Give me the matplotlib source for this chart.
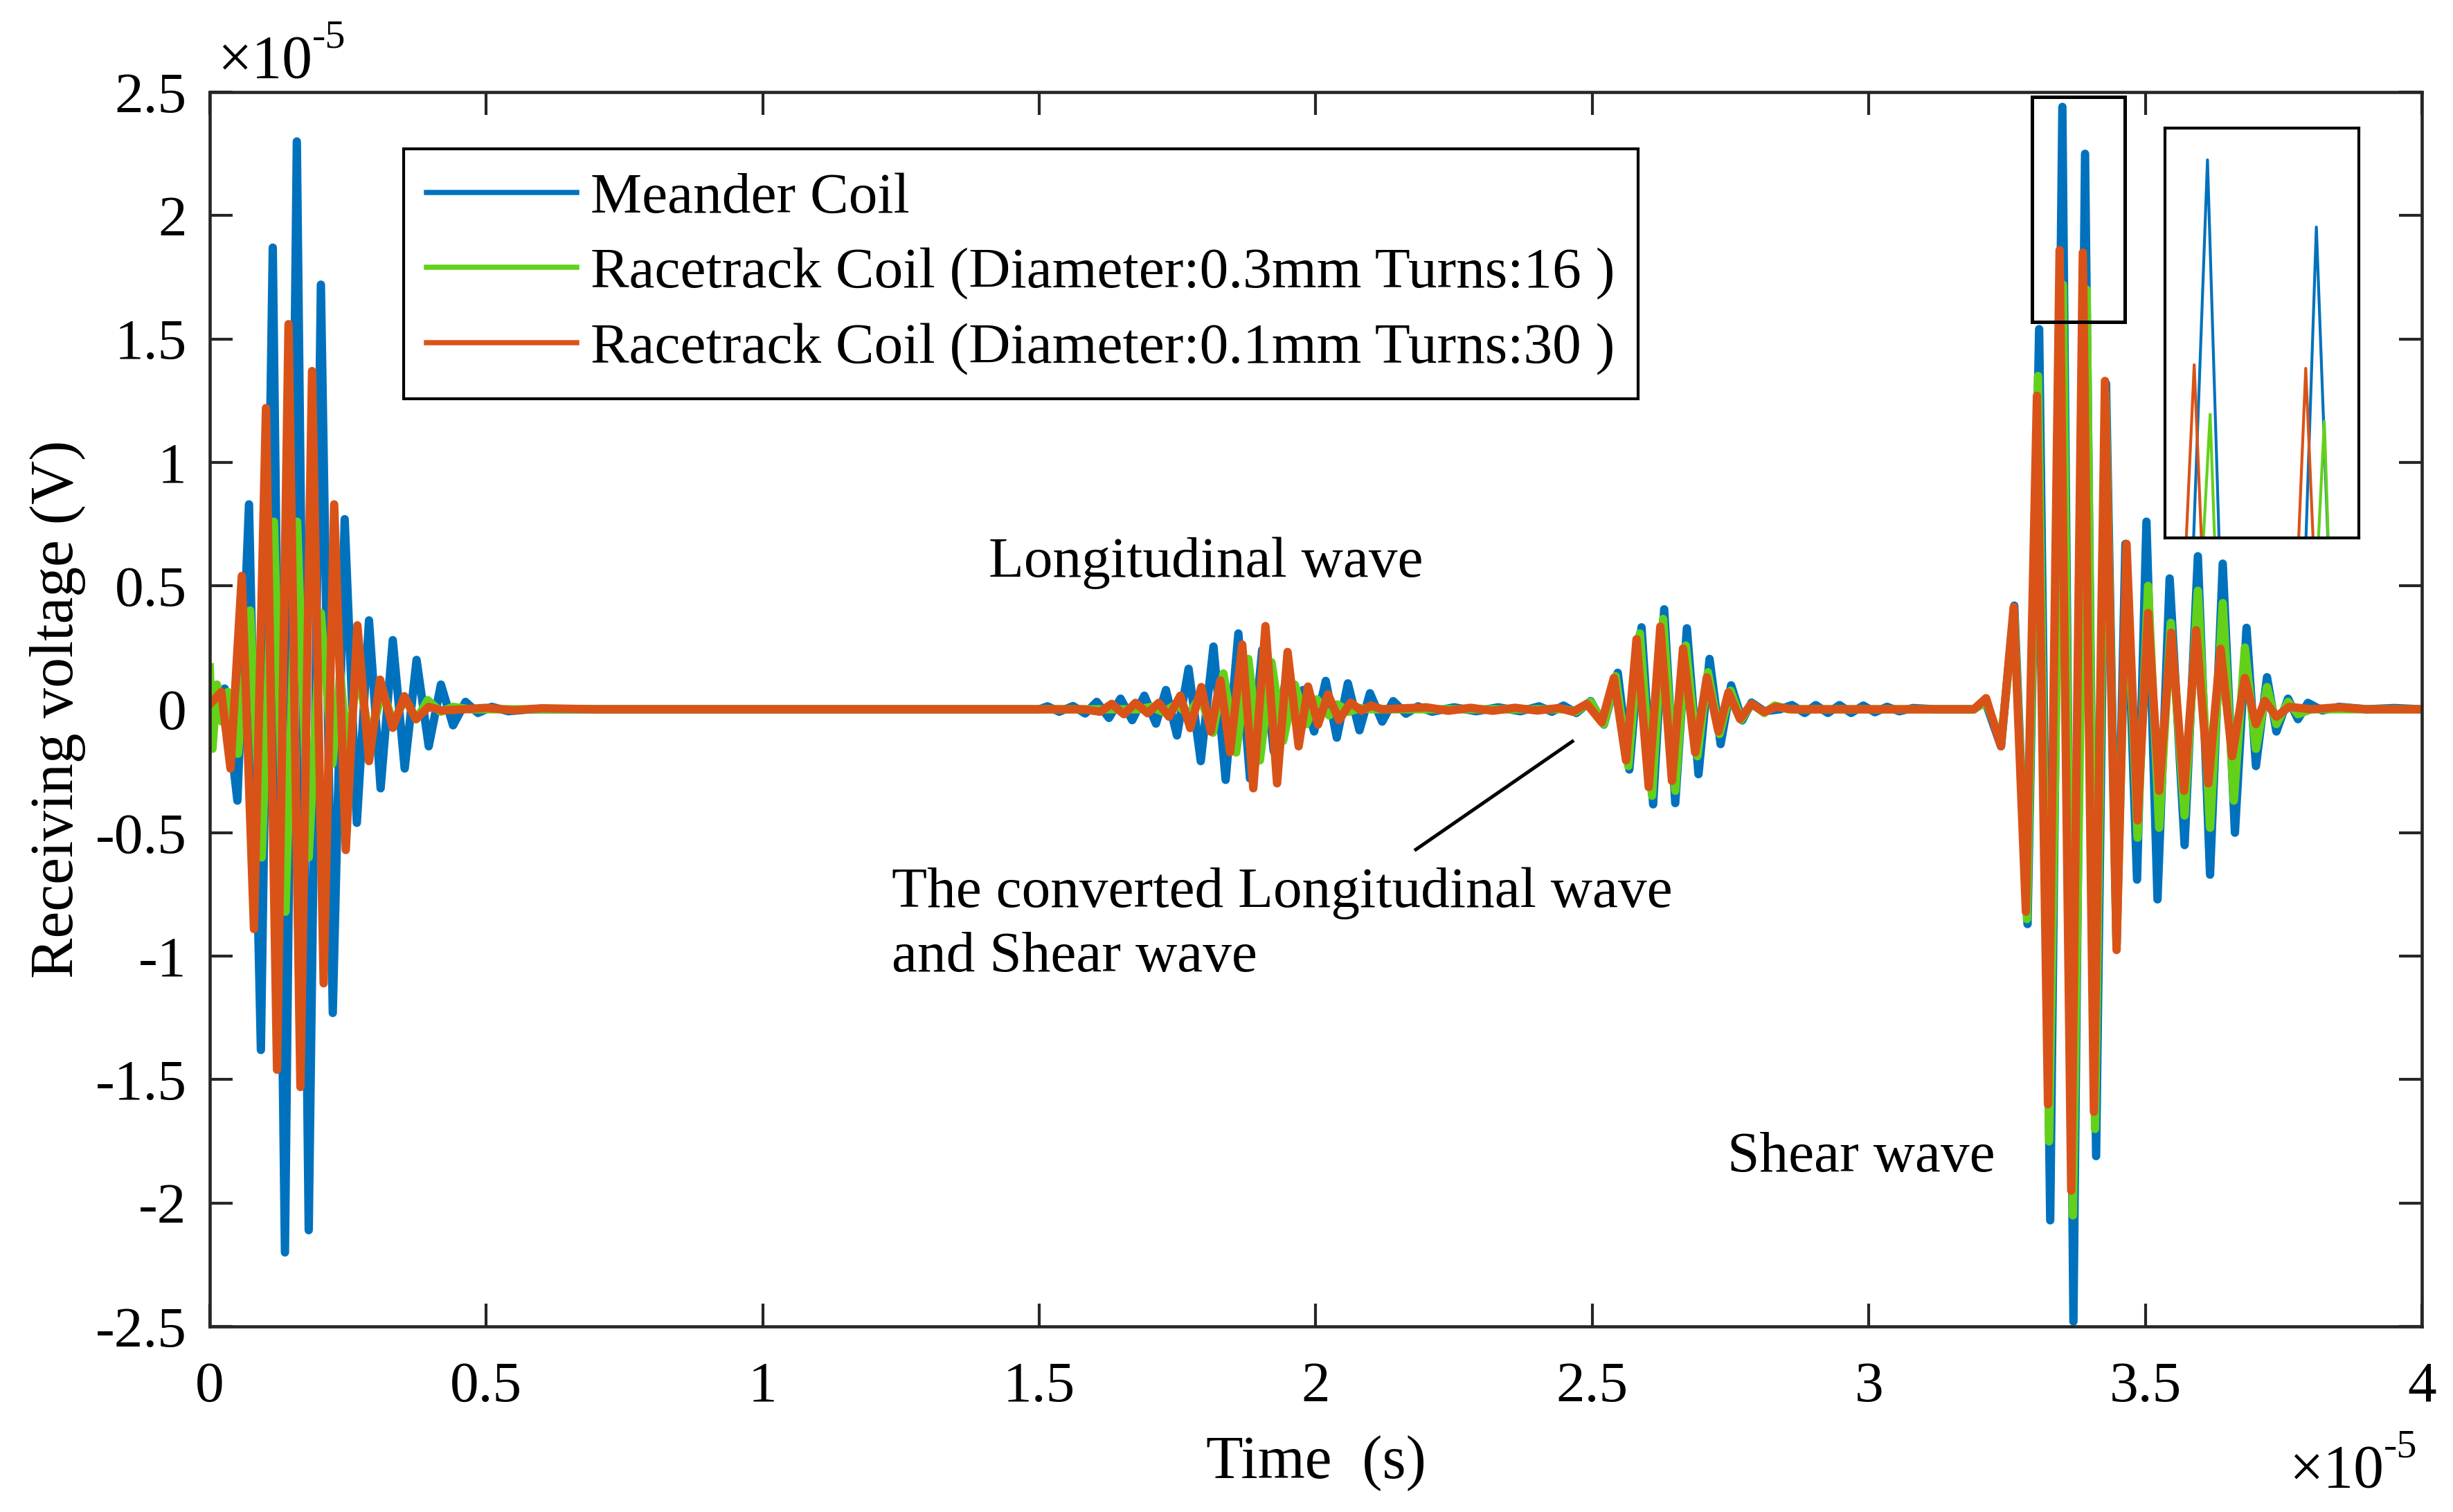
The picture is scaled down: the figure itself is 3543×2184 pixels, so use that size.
import matplotlib
matplotlib.use("Agg")
import matplotlib.pyplot as plt
from matplotlib.lines import Line2D
from matplotlib.patches import Rectangle
from matplotlib.ticker import FuncFormatter

plt.rcParams["font.family"] = ["Liberation Serif", "DejaVu Serif"]
plt.rcParams["axes.unicode_minus"] = False

# time in units of 1e-5 s, voltage in units of 1e-5 V
# (oscillation peaks/troughs)
meander_t = [0.0, 0.012, 0.027, 0.05, 0.071, 0.0925, 0.114, 0.136, 0.1575, 0.179,
             0.201, 0.2225, 0.244, 0.266, 0.288, 0.309, 0.331, 0.3525, 0.374, 0.396,
             0.418, 0.44, 0.4625, 0.485, 0.51, 0.54, 0.58, 1.5,
             1.515, 1.536, 1.561, 1.583, 1.604, 1.626, 1.647, 1.668, 1.690, 1.711,
             1.729, 1.749, 1.770, 1.792, 1.815, 1.837, 1.860, 1.881, 1.903, 1.924,
             1.945, 1.960, 1.977, 1.997, 2.018, 2.038, 2.058, 2.079, 2.098, 2.120,
             2.140, 2.163, 2.185, 2.21, 2.25, 2.29, 2.33, 2.37,
             2.404, 2.427, 2.448, 2.471, 2.497, 2.521, 2.546, 2.567, 2.589, 2.610,
             2.630, 2.650, 2.671, 2.692, 2.712, 2.732, 2.751, 2.771, 2.788, 2.811,
             2.84, 2.861, 2.884, 2.904, 2.926, 2.947, 2.968, 2.990, 3.011, 3.033,
             3.055, 3.08, 3.12, 3.19,
             3.210, 3.239, 3.263, 3.287, 3.308, 3.328, 3.350, 3.370, 3.391, 3.411,
             3.429, 3.448, 3.464, 3.485, 3.502, 3.522, 3.544, 3.571, 3.595, 3.617,
             3.640, 3.662, 3.683, 3.700, 3.720, 3.737, 3.758, 3.776, 3.794, 3.82,
             3.85, 3.90, 3.95, 4.0]
meander_v = [-0.02, -0.02, 0.084, -0.37, 0.83, -1.38, 1.87, -2.20, 2.30, -2.11,
             1.72, -1.23, 0.77, -0.46, 0.36, -0.32, 0.28, -0.24, 0.20, -0.15,
             0.10, -0.065, 0.03, -0.015, 0.01, -0.008, 0.0, 0.0,
             0.012, -0.01, 0.013, -0.017, 0.03, -0.035, 0.043, -0.044, 0.055, -0.058,
             0.078, -0.106, 0.164, -0.21, 0.254, -0.286, 0.307, -0.28, 0.24, -0.17,
             0.11, -0.03, 0.078, -0.09, 0.115, -0.115, 0.105, -0.085, 0.065, -0.05,
             0.033, -0.018, 0.012, -0.01, 0.008, -0.008, 0.008, -0.008,
             0.012, -0.01, 0.015, -0.015, 0.033, -0.062, 0.148, -0.244, 0.332, -0.385,
             0.405, -0.38, 0.328, -0.263, 0.204, -0.141, 0.097, -0.045, 0.027, -0.008,
             0.0, 0.017, -0.015, 0.017, -0.015, 0.017, -0.015, 0.015, -0.012, 0.01,
             -0.008, 0.005, 0.0, 0.0,
             0.035, -0.15, 0.42, -0.87, 1.54, -2.07, 2.44, -2.48, 2.25, -1.81,
             1.32, -0.95, 0.67, -0.69, 0.76, -0.77, 0.53, -0.55, 0.62, -0.67,
             0.59, -0.50, 0.33, -0.23, 0.13, -0.09, 0.043, -0.04, 0.026, -0.005,
             0.01, 0.0, 0.005, 0.0]

race03_t = [0.0, 0.005, 0.013, 0.022, 0.033, 0.051, 0.073, 0.094, 0.116, 0.137,
            0.158, 0.179, 0.201, 0.222, 0.236, 0.248, 0.268, 0.289, 0.3125, 0.332,
            0.353, 0.374, 0.394, 0.418, 0.44, 0.47, 1.68,
            1.703, 1.725, 1.747, 1.770, 1.791, 1.814, 1.833, 1.856, 1.878, 1.899,
            1.920, 1.941, 1.962, 1.983, 2.002, 2.024, 2.039, 2.06, 2.08, 2.10, 2.45,
            2.470, 2.497, 2.521, 2.542, 2.565, 2.586, 2.608, 2.628, 2.650, 2.669,
            2.690, 2.709, 2.730, 2.750, 2.769, 2.788, 2.811, 2.830, 2.855, 3.19,
            3.212, 3.239, 3.263, 3.286, 3.306, 3.326, 3.351, 3.369, 3.394, 3.409,
            3.428, 3.448, 3.466, 3.486, 3.505, 3.525, 3.546, 3.571, 3.595, 3.617,
            3.640, 3.660, 3.680, 3.700, 3.720, 3.737, 3.758, 3.776, 3.80, 4.0]
race03_v = [0.17, -0.16, 0.10, -0.05, 0.07, -0.18, 0.40, -0.60, 0.76, -0.82,
            0.76, -0.60, 0.39, -0.22, 0.15, -0.17, 0.16, -0.12, 0.075, -0.056,
            0.044, -0.04, 0.037, -0.01, 0.01, 0.0, 0.0,
            0.01, -0.012, 0.02, -0.02, 0.05, -0.095, 0.145, -0.175, 0.204, -0.207,
            0.19, -0.128, 0.10, -0.06, 0.04, -0.025, 0.02, -0.01, 0.005, 0.0, 0.0,
            -0.01, 0.03, -0.06, 0.134, -0.23, 0.307, -0.35, 0.366, -0.33, 0.258,
            -0.19, 0.15, -0.10, 0.075, -0.042, 0.022, -0.015, 0.015, 0.0, 0.0,
            0.03, -0.13, 0.38, -0.85, 1.35, -1.75, 1.72, -2.05, 1.70, -1.70,
            1.28, -0.95, 0.60, -0.52, 0.50, -0.48, 0.35, -0.43, 0.48, -0.48,
            0.43, -0.37, 0.25, -0.16, 0.09, -0.06, 0.03, -0.02, 0.0, 0.0]

race01_t = [0.0, 0.021, 0.0375, 0.058, 0.080, 0.1017, 0.1217, 0.1425, 0.164, 0.185,
            0.206, 0.225, 0.246, 0.267, 0.288, 0.308, 0.331, 0.352, 0.3725, 0.396,
            0.42, 0.46, 0.50, 0.55, 0.60, 0.70, 1.58,
            1.610, 1.631, 1.653, 1.674, 1.696, 1.716, 1.7345, 1.755, 1.773, 1.793,
            1.810, 1.8275, 1.845, 1.867, 1.887, 1.909, 1.930, 1.949, 1.969, 1.986,
            2.004, 2.022, 2.042, 2.063, 2.083, 2.100, 2.12, 2.20, 2.24, 2.28,
            2.32, 2.36, 2.40, 2.44, 2.465,
            2.490, 2.517, 2.539, 2.561, 2.580, 2.602, 2.623, 2.644, 2.664, 2.686,
            2.707, 2.728, 2.746, 2.767, 2.788, 2.811, 2.832, 2.86, 3.19,
            3.212, 3.239, 3.262, 3.284, 3.304, 3.324, 3.345, 3.366, 3.387, 3.407,
            3.427, 3.448, 3.466, 3.486, 3.505, 3.525, 3.547, 3.570, 3.592, 3.614,
            3.636, 3.657, 3.680, 3.700, 3.716, 3.737, 3.76, 3.80, 3.85, 3.90, 4.0]
race01_v = [0.02, 0.07, -0.24, 0.54, -0.89, 1.22, -1.46, 1.56, -1.53, 1.37,
            -1.11, 0.83, -0.57, 0.34, -0.21, 0.12, -0.075, 0.053, -0.04, 0.01,
            -0.005, 0.0, 0.006, -0.004, 0.004, 0.0, 0.0,
            -0.01, 0.022, -0.02, 0.026, -0.016, 0.026, -0.03, 0.055, -0.076, 0.09,
            -0.09, 0.117, -0.174, 0.262, -0.32, 0.337, -0.30, 0.232, -0.15, 0.092,
            -0.062, 0.061, -0.044, 0.027, -0.006, 0.015, 0.0, 0.008, -0.006, 0.006,
            -0.006, 0.006, -0.005, 0.005, -0.01,
            0.022, -0.053, 0.127, -0.207, 0.284, -0.315, 0.335, -0.29, 0.246, -0.175,
            0.129, -0.09, 0.068, -0.039, 0.022, -0.011, 0.01, 0.0, 0.0,
            0.045, -0.15, 0.415, -0.82, 1.27, -1.60, 1.86, -1.95, 1.85, -1.63,
            1.33, -0.975, 0.67, -0.45, 0.39, -0.33, 0.31, -0.33, 0.32, -0.30,
            0.245, -0.19, 0.127, -0.06, 0.034, -0.03, 0.01, 0.0, 0.008, 0.0, 0.0]

labels = ["Meander Coil",
          "Racetrack Coil (Diameter:0.3mm Turns:16 )",
          "Racetrack Coil (Diameter:0.1mm Turns:30 )"]
colors = ["#0072BD", "#63D11A", "#D95319"]
x_ticks = [0, 0.5, 1, 1.5, 2, 2.5, 3, 3.5, 4]
y_ticks = [-2.5, -2, -1.5, -1, -0.5, 0, 0.5, 1, 1.5, 2, 2.5]

series = [(meander_t, meander_v), (race03_t, race03_v), (race01_t, race01_v)]

fig = plt.figure(figsize=(3543 / 300, 2184 / 300), dpi=300)
ax = fig.add_axes([0.0855, 0.1227, 0.9018, 0.8164])

for (t, v), c in zip(series, colors):
    ax.plot(t, v, color=c, lw=2.9, solid_joinstyle="round")

ax.set_xlim(0, 4)
ax.set_ylim(-2.5, 2.5)
ax.set_xticks(x_ticks)
ax.set_yticks(y_ticks)
fmt = FuncFormatter(lambda val, pos: f"{val:g}")
ax.xaxis.set_major_formatter(fmt)
ax.yaxis.set_major_formatter(fmt)
ax.tick_params(direction="in", length=8, width=1.0, top=True, right=True,
               colors="#262626", labelsize=20, labelcolor="black")
ax.tick_params(axis="x", pad=12)
ax.tick_params(axis="y", pad=8)
for sp in ax.spines.values():
    sp.set_color("#262626")
    sp.set_linewidth(1.1)

ax.set_xlabel("Time  (s)", fontsize=21)
ax.set_ylabel("Receiving voltage (V)", fontsize=21)
ax.xaxis.set_label_coords(0.5, -0.088)
ax.yaxis.set_label_coords(-0.056, 0.5)

# scale factors (MATLAB style exponent labels)
ty = fig.text(314 / 3543, 1 - 112 / 2184, "\u00d710", fontsize=21, va="baseline")
ax.annotate("-5", xy=(1.0, 0.62), xycoords=ty, fontsize=14, ha="left", va="bottom")
tx = fig.text(3306 / 3543, 1 - 2148 / 2184, "\u00d710", fontsize=21, va="baseline")
ax.annotate("-5", xy=(1.0, 0.62), xycoords=tx, fontsize=14, ha="left", va="bottom")

# legend
handles = [Line2D([], [], color=c, lw=1.8) for c in colors]
leg = ax.legend(handles, labels, loc="upper left", bbox_to_anchor=(0.0876, 0.954),
                borderaxespad=0, fontsize=20, frameon=True, fancybox=False,
                edgecolor="black", framealpha=1, borderpad=0.4, labelspacing=0.39,
                handlelength=2.6, handletextpad=0.24)
leg.get_frame().set_linewidth(1.0)

# annotations
ax.text(1.408, 0.593, "Longitudinal wave", fontsize=20, va="center", ha="left")
ax.text(1.233, -0.745, "The converted Longitudinal wave", fontsize=20, va="center", ha="left")
ax.text(1.233, -1.005, "and Shear wave", fontsize=20, va="center", ha="left")
ax.plot([2.181, 2.464], [-0.568, -0.13], color="black", lw=1.2)
ax.text(2.744, -1.816, "Shear wave", fontsize=20, va="center", ha="left")

# zoom box and inset
ax.add_patch(Rectangle((3.295, 1.569), 0.168, 0.911, fill=False,
                       edgecolor="black", lw=1.2, zorder=5))
axin = fig.add_axes([3127 / 3543, 1 - 777 / 2184, 280 / 3543, 592 / 2184])
for (t, v), c in zip(series, colors):
    axin.plot(t, v, color=c, lw=1.0)
axin.set_xlim(3.334, 3.407)
axin.set_ylim(1.37, 2.53)
axin.set_xticks([])
axin.set_yticks([])
for sp in axin.spines.values():
    sp.set_color("black")
    sp.set_linewidth(1.0)

fig.savefig("out.png", dpi=300)
